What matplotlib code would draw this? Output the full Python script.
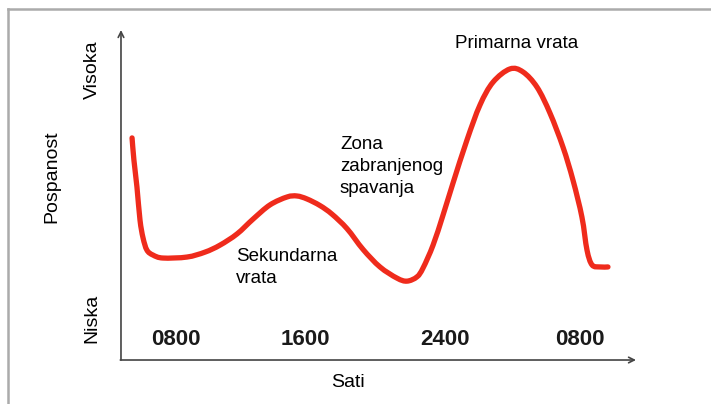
import numpy as np
import matplotlib
matplotlib.use('Agg')
import matplotlib.pyplot as plt
from matplotlib.lines import Line2D
from matplotlib.path import Path
from matplotlib.patches import PathPatch

plt.rcParams['font.family'] = ['Liberation Sans', 'DejaVu Sans']

# sleepiness curve: hours vs. level (0 = Niska, ~9 = Visoka)
hours = [5.40, 5.51, 5.69, 5.87, 6.05, 6.28, 6.64, 7.23, 8.65, 9.72,
         10.60, 11.61, 12.56, 13.56, 14.57, 15.16, 15.75, 16.52, 17.23, 18.12,
         19.07, 20.07, 21.08, 21.67, 22.26, 22.62, 23.21, 23.80, 24.39, 25.22,
         25.99, 26.76, 27.76, 28.53, 29.36, 30.13, 30.90, 31.49, 32.02, 32.32,
         32.62, 33.09, 33.56]
level = [6.73, 6.06, 5.24, 4.24, 3.70, 3.33, 3.18, 3.09, 3.12, 3.27,
         3.48, 3.82, 4.27, 4.70, 4.94, 4.97, 4.88, 4.68, 4.42, 3.98,
         3.35, 2.82, 2.48, 2.39, 2.52, 2.79, 3.48, 4.39, 5.36, 6.67,
         7.73, 8.42, 8.82, 8.73, 8.27, 7.48, 6.45, 5.45, 4.33, 3.33,
         2.88, 2.82, 2.82]

tick_labels = ['0800', '1600', '2400', '0800']
tick_pos = [8.0, 15.65, 23.9, 31.9]


def smooth_path(x, y):
    # pass a smooth bezier curve through the read points (catmull-rom style)
    p = np.column_stack([x, y])
    verts = [p[0]]
    codes = [Path.MOVETO]
    for i in range(len(p) - 1):
        a = p[max(i - 1, 0)]
        b = p[i]
        c = p[i + 1]
        d = p[min(i + 2, len(p) - 1)]
        verts += [b + (c - a) / 6, c - (d - b) / 6, c]
        codes += [Path.CURVE4] * 3
    return Path(verts, codes)


fig = plt.figure(figsize=(7.11, 4.04), dpi=100)
ax = fig.add_axes([0, 0, 1, 1])
ax.set_xlim(-2.414, 39.657)
ax.set_ylim(-1.333, 10.909)
ax.axis('off')

# grey frame (top and left only)
fig.add_artist(Line2D([8/711, 1], [1 - 9/404, 1 - 9/404], color='#ababab', lw=1.8))
fig.add_artist(Line2D([8/711, 8/711], [0, 1 - 9/404], color='#ababab', lw=1.8))

# axes with arrows
x0 = 4.745
ax.annotate('', xy=(x0, 10.0), xytext=(x0, 0),
            arrowprops=dict(arrowstyle='->', color='#444444', lw=1.2, shrinkA=0, shrinkB=0))
ax.annotate('', xy=(35.22, 0), xytext=(x0 - 0.04, 0),
            arrowprops=dict(arrowstyle='->', color='#444444', lw=1.2, shrinkA=0, shrinkB=0))

ax.add_patch(PathPatch(smooth_path(hours, level), facecolor='none', edgecolor='#ef2b1c',
                       lw=3.8, capstyle='round', joinstyle='round'))

for p, t in zip(tick_pos, tick_labels):
    ax.text(p, 0.61, t, ha='center', va='center', fontsize=16, fontweight='bold', color='#1a1a1a')

ax.text(3.03, 8.79, 'Visoka', rotation=90, ha='center', va='center', fontsize=14)
ax.text(3.03, 1.27, 'Niska', rotation=90, ha='center', va='center', fontsize=14)
ax.text(0.66, 5.55, 'Pospanost', rotation=90, ha='center', va='center', fontsize=14)
ax.text(18.18, -0.67, 'Sati', ha='center', va='center', fontsize=14)

ax.text(28.18, 9.58, 'Primarna vrata', ha='center', va='center', fontsize=13.5)
ax.text(17.70, 6.78, 'Zona\nzabranjenog\nspavanja', ha='left', va='top', fontsize=13.5, linespacing=1.38)
ax.text(11.55, 3.40, 'Sekundarna\nvrata', ha='left', va='top', fontsize=13.5, linespacing=1.38)

fig.savefig('out.png', dpi=100)
